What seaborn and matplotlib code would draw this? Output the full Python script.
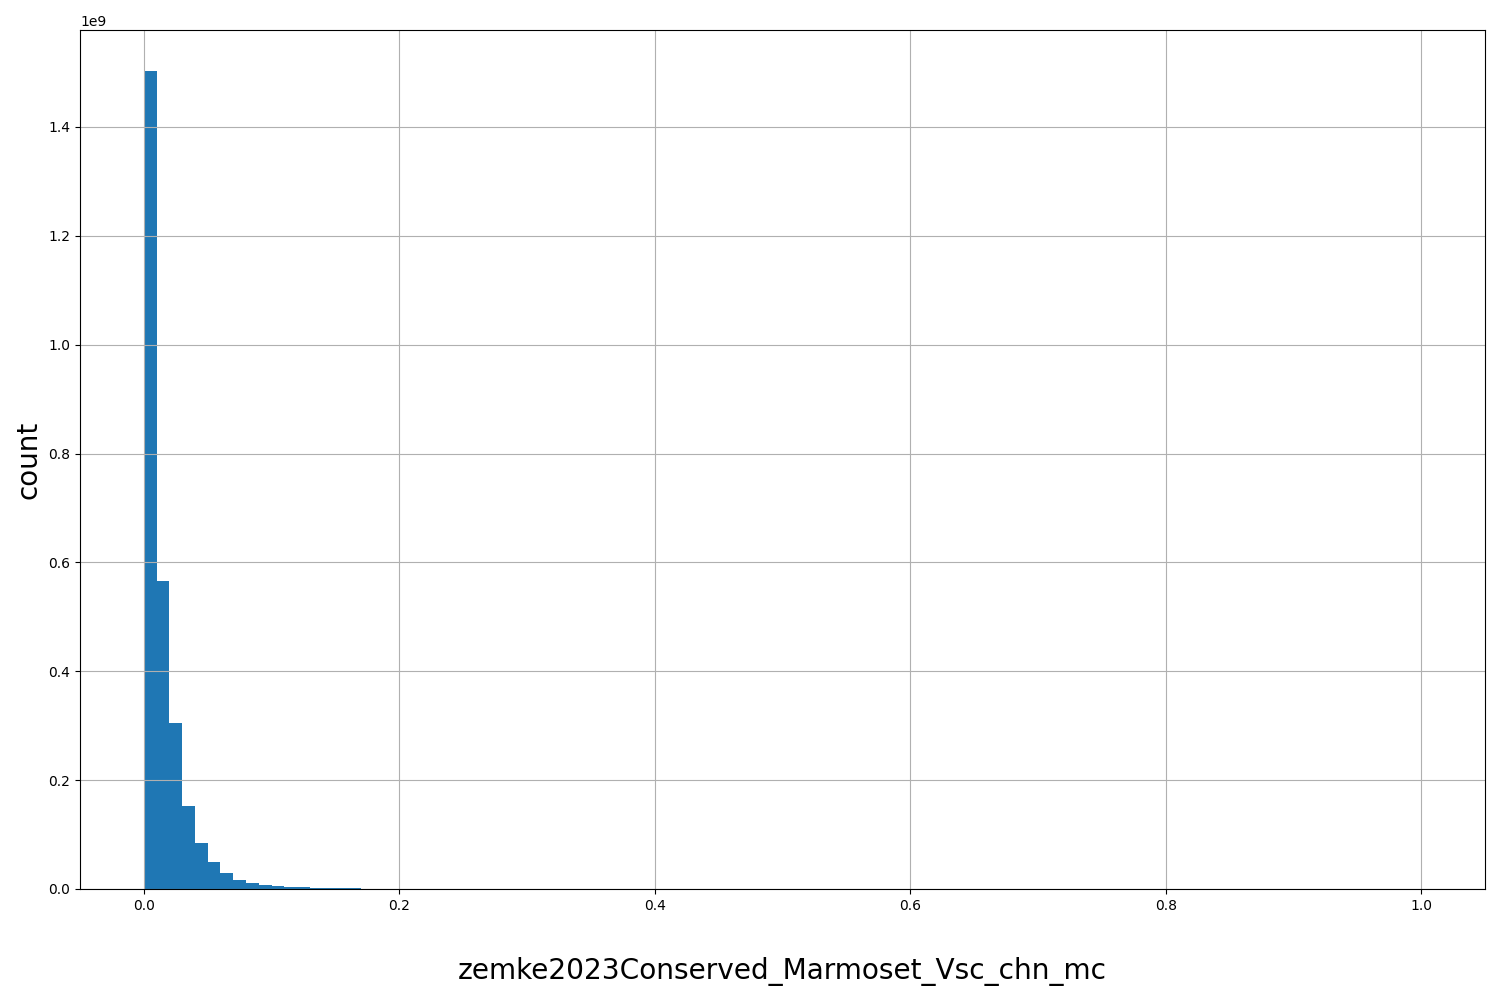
import numpy as np
import pandas as pd
import matplotlib
matplotlib.use("Agg")
import matplotlib.pyplot as plt
import seaborn as sns

# 100 bins of width 0.01 from 0 to 1
n_bins = 100
bin_range = (0.0, 1.0)

# counts per bin (in units of 1e9)
counts_head = [1.503, 0.566, 0.305, 0.1525, 0.0845, 0.0496, 0.0294, 0.0165,
               0.0104, 0.0073, 0.0055, 0.0042, 0.0035, 0.0024, 0.0020, 0.0017,
               0.0014]
counts_tail = [0.0009, 0.0007, 0.0005, 0.0004, 0.0003, 0.00025, 0.0002,
               0.00016, 0.00013, 0.0001]
# remaining bins are essentially empty
counts_rest = [0.00005] * (100 - len(counts_head) - len(counts_tail))

counts = np.array(counts_head + counts_tail + counts_rest) * 1e9
edges = np.linspace(bin_range[0], bin_range[1], n_bins + 1)
centers = (edges[:-1] + edges[1:]) / 2

df = pd.DataFrame({"value": centers, "count": counts})

fig, ax = plt.subplots(figsize=(15, 10), dpi=100)
sns.histplot(data=df, x="value", weights="count", bins=n_bins, binrange=bin_range,
             color="#1f77b4", alpha=1.0, edgecolor="none", linewidth=0, ax=ax)
ax.grid(True)
ax.set_xlabel("zemke2023Conserved_Marmoset_Vsc_chn_mc", fontsize=20.2, labelpad=32)
ax.set_ylabel("count", fontsize=20)
ax.set_xlim(-0.05, 1.05)
fig.subplots_adjust(left=0.0533, right=0.99, top=0.97, bottom=0.111)
fig.savefig("out.png", dpi=100)
